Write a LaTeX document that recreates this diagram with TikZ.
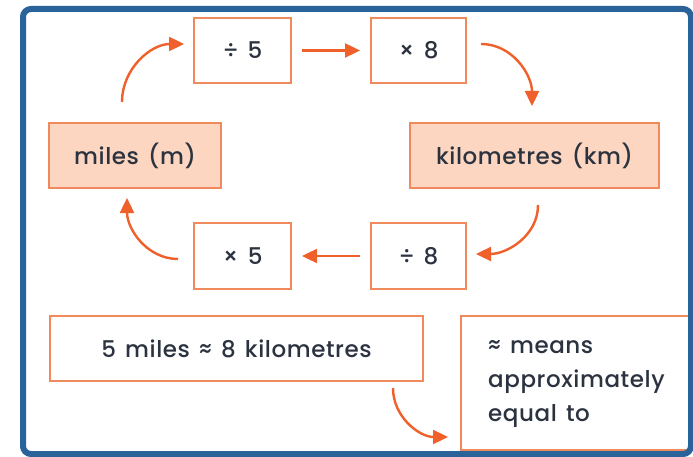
\documentclass[tikz,border=0pt]{standalone}
\usepackage{fontspec}
\setmainfont{Poppins}[UprightFont=* Medium,LetterSpace=2.5,WordSpace=1.4]
\usetikzlibrary{arrows.meta}
\definecolor{frameblue}{HTML}{2A629A}
\definecolor{boxorange}{HTML}{F08A5D}
\definecolor{arroworange}{HTML}{F0602A}
\definecolor{peach}{HTML}{FCD6C0}
\definecolor{txt}{HTML}{2C3340}
\begin{document}
\begin{tikzpicture}[x=1pt,y=-1pt,
  box/.style={draw=boxorange,line width=2pt,inner sep=0pt,anchor=north west,text=txt,font=\fontsize{23}{27}\selectfont},
  unitbox/.style={box,fill=peach},
  arr/.style={draw=arroworange,line width=2.4pt,-{Triangle[length=15pt,width=14pt]}}]
\useasboundingbox (0,0) rectangle (693,457);
\fill[white] (0,0) rectangle (693,457);
\node[box,minimum width=97pt,minimum height=65pt] (d5) at (193,17) {÷ 5};
\node[box,minimum width=95pt,minimum height=65pt] (t8) at (370,17) {× 8};
\node[unitbox,minimum width=172pt,minimum height=65pt] (mi) at (48,122) {miles (m)};
\node[unitbox,minimum width=249pt,minimum height=65pt] (km) at (409,122) {kilometres (km)};
\node[box,minimum width=97pt,minimum height=66pt] (t5) at (193,222) {× 5};
\node[box,minimum width=95pt,minimum height=66pt] (d8) at (370,222) {÷ 8};
\node[box,minimum width=373pt,minimum height=65pt] (eq) at (49,315) {5 miles ≈ 8 kilometres};
\node[box,minimum width=240pt,minimum height=134pt] (mean) at (460,315) {};
\node[anchor=north west,text=txt,font=\fontsize{23}{34}\selectfont,align=left,inner sep=0pt] (meantxt) at (488,340) {≈ means\\approximately\\equal to};
\draw[frameblue,line width=6pt,rounded corners=8pt] (23,9) rectangle (691,454);
\coordinate (a1s) at (122,102);
\coordinate (a1e) at (184,44);
\draw[arr] (a1s) to[out=90,in=180] (a1e);
\draw[arr] ([xshift=10pt]d5.east) -- ([xshift=-10pt]t8.east -| t8.west);
\coordinate (a3s) at (481,44);
\coordinate (a3e) at (532,106);
\draw[arr] (a3s) to[out=0,in=90] (a3e);
\coordinate (a4s) at (538,205);
\coordinate (a4e) at (476,254);
\draw[arr] (a4s) to[out=-90,in=0] (a4e);
\draw[arr] ([xshift=-10pt]d8.west) -- ([xshift=10pt]t5.east);
\coordinate (a6s) at (178,259);
\coordinate (a6e) at (127,198);
\draw[arr] (a6s) to[out=180,in=-90] (a6e);
\coordinate (a7s) at (393,388);
\coordinate (a7e) at (448,437);
\draw[arr] (a7s) to[out=-90,in=180] (a7e);
\end{tikzpicture}
\end{document}
